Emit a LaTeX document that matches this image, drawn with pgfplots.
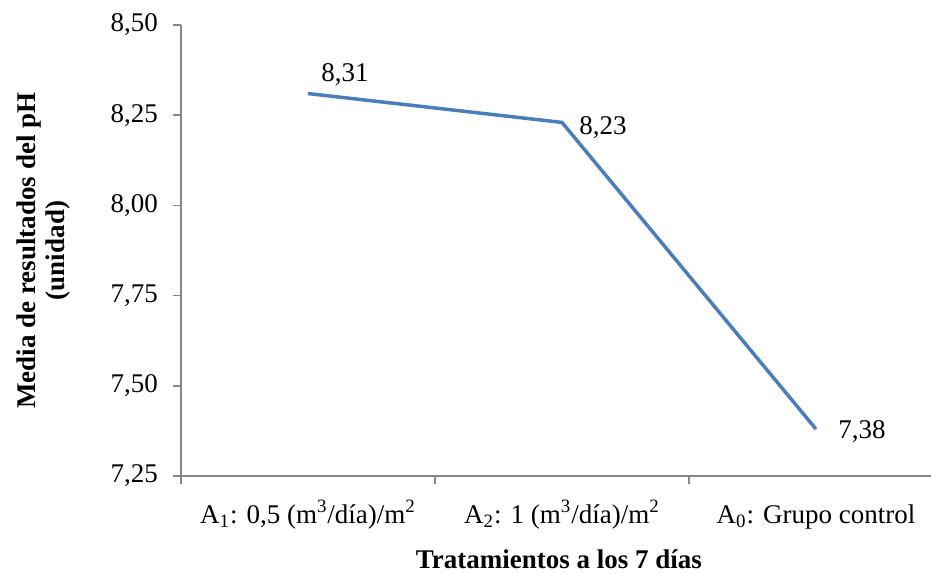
\documentclass[border=0pt]{standalone}
\usepackage{fontspec}
\setmainfont{Liberation Serif}
\usepackage{pgfplots}
\pgfplotsset{compat=1.18}
\definecolor{axisgray}{RGB}{134,134,134}
\definecolor{lineblue}{RGB}{74,126,187}
\begin{document}
\begin{tikzpicture}
\useasboundingbox (0,0) rectangle (465.5pt,286.5pt);
\begin{axis}[
  at={(90.5pt,48.5pt)}, anchor=south west,
  scale only axis, width=381pt, height=225.5pt,
  xmin=-0.5, xmax=2.5, ymin=7.25, ymax=8.5,
  font=\fontsize{13.5}{16}\selectfont,
  axis x line=bottom, axis y line=left,
  axis line style={-, draw=axisgray, line width=0.8pt},
  tick align=outside,
  major tick length=4pt,
  tick style={draw=axisgray, line width=0.8pt},
  xtick={-0.5,0.5,1.5},
  xticklabels={},
  extra x ticks={0,1,2},
  extra x tick labels={{A\textsubscript{1}: 0,5 (m\textsuperscript{3}/día)/m\textsuperscript{2}},
               {A\textsubscript{2}: 1 (m\textsuperscript{3}/día)/m\textsuperscript{2}},
               {A\textsubscript{0}: Grupo control}},
  extra x tick style={major tick length=0pt, tick style={draw=none}},
  xticklabel style={anchor=base, yshift=-23.5pt},
  ytick={7.25,7.5,7.75,8,8.25,8.5},
  yticklabel style={anchor=east, xshift=-4pt, /pgf/number format/fixed, /pgf/number format/fixed zerofill, /pgf/number format/precision=2, /pgf/number format/use comma, /pgf/number format/assume math mode=true},
  ylabel={Media de resultados del pH\\(unidad)},
  every axis y label/.style={at={(axis description cs:-0.1800,0.5)}, rotate=90, anchor=center, align=center, font=\fontsize{13.5}{14.5}\selectfont\bfseries},
  xlabel={Tratamientos a los 7 días},
  every axis x label/.style={at={(axis description cs:0.496,-0.185)}, anchor=center, font=\fontsize{13.5}{16}\selectfont\bfseries},
  clip=false,
  nodes near coords={\pgfmathprintnumber[fixed, fixed zerofill, precision=2, use comma, assume math mode=true]{\pgfplotspointmeta}},
  visualization depends on={\thisrow{dx}\as\dx},
  visualization depends on={\thisrow{dy}\as\dy},
  nodes near coords style={anchor=center, xshift=\dx pt, yshift=\dy pt, text=black},
]
\addplot[color=lineblue, line width=1.75pt, line join=round, mark=none, point meta=y] table {
x y dx dy
0 8.31 18.5 9.25
1 8.23 20.5 -2.8
2 7.38 23 -1.5
};
\end{axis}
\end{tikzpicture}
\end{document}
